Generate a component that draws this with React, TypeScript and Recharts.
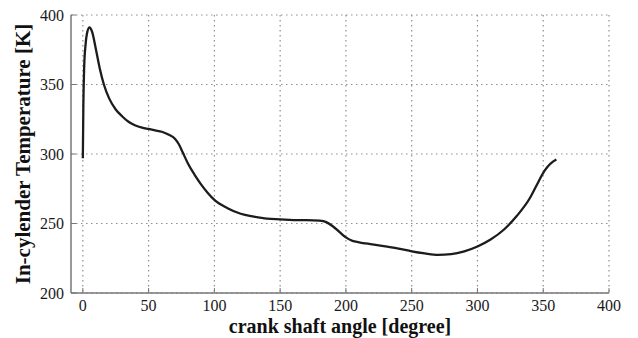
import { CartesianGrid, Line, LineChart, XAxis, YAxis } from 'recharts';

// crank angle [deg] and in-cylinder temperature [K]
const angle = [0, 0.4, 1, 2, 3, 5, 7, 10, 13, 16, 20, 25, 30, 35, 40, 45, 50, 55, 60, 65, 70, 73, 76, 80, 85, 90, 95, 100, 110, 120, 130, 140, 150, 160, 170, 180, 185, 190, 195, 200, 205, 210, 220, 230, 240, 250, 260, 270, 280, 290, 300, 310, 320, 330, 340, 345, 350, 353, 356, 360];
const temperature = [297, 335, 362, 378, 386, 391, 388, 375, 361, 350, 340, 332, 327, 323, 320.5, 319, 318, 317, 316, 314, 311, 307, 301, 293, 285, 278, 272, 267, 261, 257, 255, 253.5, 253, 252.5, 252.5, 252, 251, 248, 244, 240, 237.5, 236.5, 235, 233.5, 232, 230, 228.5, 227.5, 228, 230, 233.5, 238.5, 245.5, 255.5, 268.5, 277.5, 286.5, 290.5, 293.5, 296];

const xTicks = [0, 50, 100, 150, 200, 250, 300, 350, 400];
const yTicks = [200, 250, 300, 350, 400];

const data = angle.map((a, i) => ({ a, t: temperature[i] }));

const serif = '"Liberation Serif", "DejaVu Serif", serif';
const frame = '#777';
const tickStyle = { fontSize: 16, fill: '#1a1a1a', fontFamily: serif };
const labelStyle = { fontSize: 20, fontWeight: 700, fill: '#111', fontFamily: serif };

export default function App() {
  return (
    <div style={{ position: 'absolute', left: 0, top: 0, width: 638, height: 338, background: '#fff' }}>
      <LineChart width={638} height={338} data={data} margin={{ top: 15, right: 29, left: 0, bottom: 0 }}>
        <CartesianGrid stroke="#8f8f8f" strokeDasharray="1.5 3.5" strokeWidth={1.2}
          horizontalValues={yTicks} verticalValues={xTicks} />
        <XAxis dataKey="a" type="number" domain={[-9, 400]} ticks={xTicks} interval={0} height={45}
          axisLine={{ stroke: frame, strokeWidth: 1.5 }} tickLine={{ stroke: frame }} tickSize={-5} tickMargin={12}
          tick={tickStyle}
          label={{ value: 'crank shaft angle [degree]', position: 'insideBottom', offset: 5, style: labelStyle }} />
        <XAxis xAxisId="top" orientation="top" dataKey="a" type="number" domain={[-9, 400]} ticks={xTicks} interval={0}
          height={0} axisLine={{ stroke: frame, strokeWidth: 1.5 }} tickLine={{ stroke: frame }} tickSize={-5}
          tickFormatter={() => ''} />
        <YAxis type="number" domain={[200, 400]} ticks={yTicks} interval={0} width={71}
          axisLine={{ stroke: frame, strokeWidth: 1.5 }} tickLine={{ stroke: frame }} tickSize={-5} tickMargin={12}
          tick={tickStyle}
          label={{ value: 'In-cylender Temperature [K]', angle: -90, position: 'center', dx: -13, style: { ...labelStyle, fontSize: 21 } }} />
        <YAxis yAxisId="right" orientation="right" type="number" domain={[200, 400]} ticks={yTicks} interval={0} width={0}
          axisLine={{ stroke: frame, strokeWidth: 1.5 }} tickLine={{ stroke: frame }} tickSize={-5}
          tickFormatter={() => ''} />
        <Line type="monotone" dataKey="t" stroke="#1c1c1c" strokeWidth={2.3} dot={false} isAnimationActive={false} />
      </LineChart>
    </div>
  );
}
